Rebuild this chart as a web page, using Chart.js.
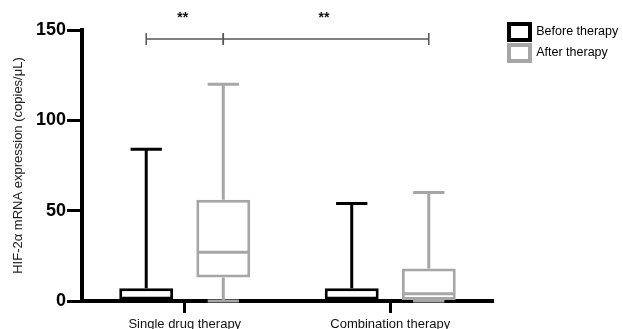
<!DOCTYPE html>
<html>
<head>
<meta charset="utf-8">
<script src="https://cdn.jsdelivr.net/npm/chart.js@4.4.0/dist/chart.umd.min.js"></script>
<style>
  html, body { margin: 0; padding: 0; background: #fff; }
  #wrap { width: 623px; height: 329px; }
</style>
</head>
<body>
<div id="wrap"><canvas id="hifChart"></canvas></div>
<script>
// box plot data (copies/uL)
const categories = ['Single drug therapy', 'Combination therapy'];
const seriesNames = ['Before therapy', 'After therapy'];

const beforeMin = [0, 0];
const beforeQ1 = [0.5, 0.5];
const beforeMedian = [1.5, 1.5];
const beforeQ3 = [7, 7];
const beforeMax = [84, 54];

const afterMin = [0, 0];
const afterQ1 = [13, 0.5];
const afterMedian = [27, 4];
const afterQ3 = [56, 18];
const afterMax = [120, 60];

const yTicks = [0, 50, 100, 150];

// significance brackets: [datasetIndex, categoryIndex] endpoints
const sigFrom = [[0, 0], [1, 0]];
const sigTo = [[1, 0], [1, 1]];
const sigText = ['**', '**'];
const sigLevel = 145;

const FONT = '"Liberation Sans", Arial, sans-serif';
const BLACK = '#000000';
const GREY = '#a6a6a6';

const stats = [
    { min: beforeMin, q1: beforeQ1, med: beforeMedian, q3: beforeQ3, max: beforeMax },
    { min: afterMin, q1: afterQ1, med: afterMedian, q3: afterQ3, max: afterMax }
];

// whiskers, medians and the significance bars
const boxPlotExtras = {
    id: 'boxPlotExtras',
    afterLayout(chart) {
        // legend sits a bit away from the plot in the figure
        chart.legend.left += 11;
        chart.legend.right += 11;
    },
    afterDatasetsDraw(chart) {
        const ctx = chart.ctx;
        const y = chart.scales.y;
        ctx.save();
        chart.data.datasets.forEach((ds, di) => {
            const meta = chart.getDatasetMeta(di);
            const s = stats[di];
            meta.data.forEach((bar, i) => {
                const cx = bar.x;
                const half = bar.width / 2;
                const cap = bar.width * 0.29;
                const pMax = y.getPixelForValue(s.max[i]);
                const pMin = y.getPixelForValue(s.min[i]);
                const pQ1 = y.getPixelForValue(s.q1[i]);
                const pQ3 = y.getPixelForValue(s.q3[i]);
                const pMed = y.getPixelForValue(s.med[i]);
                ctx.strokeStyle = ds.borderColor;
                ctx.lineWidth = 3;
                ctx.lineCap = 'butt';
                ctx.beginPath();
                ctx.moveTo(cx, pQ3); ctx.lineTo(cx, pMax);
                ctx.moveTo(cx - cap, pMax); ctx.lineTo(cx + cap, pMax);
                ctx.moveTo(cx, pQ1); ctx.lineTo(cx, pMin);
                ctx.moveTo(cx - cap, pMin); ctx.lineTo(cx + cap, pMin);
                ctx.moveTo(cx - half + 2, pMed); ctx.lineTo(cx + half - 2, pMed);
                ctx.stroke();
            });
        });

        const by = y.getPixelForValue(sigLevel);
        sigFrom.forEach((from, k) => {
            const to = sigTo[k];
            const x1 = chart.getDatasetMeta(from[0]).data[from[1]].x;
            const x2 = chart.getDatasetMeta(to[0]).data[to[1]].x;
            ctx.strokeStyle = '#555555';
            ctx.lineWidth = 1.5;
            ctx.beginPath();
            ctx.moveTo(x1, by); ctx.lineTo(x2, by);
            ctx.moveTo(x1, by - 6); ctx.lineTo(x1, by + 6);
            ctx.moveTo(x2, by - 6); ctx.lineTo(x2, by + 6);
            ctx.stroke();
            ctx.fillStyle = '#111111';
            ctx.font = 'bold 14px ' + FONT;
            ctx.textAlign = 'center';
            ctx.textBaseline = 'alphabetic';
            ctx.fillText(sigText[k], (x1 + x2) / 2 - 2, by - 17);
        });
        ctx.restore();
    }
};

const ctx = document.getElementById('hifChart');

new Chart(ctx, {
    type: 'bar',
    data: {
        labels: categories,
        datasets: [
            {
                label: seriesNames[0],
                data: beforeQ1.map((v, i) => [v, beforeQ3[i]]),
                backgroundColor: '#ffffff',
                borderColor: BLACK,
                borderWidth: 3,
                borderSkipped: false
            },
            {
                label: seriesNames[1],
                data: afterQ1.map((v, i) => [v, afterQ3[i]]),
                backgroundColor: '#ffffff',
                borderColor: GREY,
                borderWidth: 3,
                borderSkipped: false
            }
        ]
    },
    options: {
        responsive: true,
        maintainAspectRatio: false,
        animation: false,
        categoryPercentage: 0.75,
        barPercentage: 0.7,
        layout: {
            padding: { top: 19, right: 0, bottom: 0, left: 0 }
        },
        plugins: {
            tooltip: { enabled: false },
            legend: {
                display: true,
                position: 'right',
                align: 'start',
                labels: {
                    boxWidth: 21,
                    boxHeight: 16,
                    padding: 5,
                    color: '#111111',
                    font: { family: FONT, size: 12.5 },
                    generateLabels: (chart) => chart.data.datasets.map((ds, i) => ({
                        text: ds.label,
                        fillStyle: '#ffffff',
                        strokeStyle: ds.borderColor,
                        lineWidth: 4,
                        hidden: false,
                        datasetIndex: i
                    }))
                }
            }
        },
        scales: {
            x: {
                offset: true,
                grid: {
                    display: true,
                    offset: false,
                    drawOnChartArea: false,
                    drawTicks: true,
                    tickLength: 12,
                    tickWidth: 3,
                    tickColor: BLACK
                },
                border: { display: true, color: BLACK, width: 4 },
                ticks: {
                    color: '#111111',
                    padding: 4,
                    font: { family: FONT, size: 13 }
                },
                afterFit: (scale) => {
                    scale.height = 28;
                    scale.paddingLeft = 0;
                    scale.paddingRight = 130;
                }
            },
            y: {
                min: 0,
                max: 150,
                afterBuildTicks: (scale) => {
                    scale.ticks = yTicks.map(v => ({ value: v }));
                },
                grid: {
                    display: true,
                    drawOnChartArea: false,
                    drawTicks: true,
                    tickLength: 15,
                    tickWidth: 3,
                    tickColor: BLACK
                },
                border: { display: true, color: BLACK, width: 4 },
                ticks: {
                    color: BLACK,
                    padding: 1,
                    font: { family: FONT, size: 18, weight: 'bold' }
                },
                title: {
                    display: true,
                    text: 'HIF-2α mRNA expression (copies/μL)',
                    color: '#222222',
                    font: { family: FONT, size: 13 },
                    padding: { top: 11, bottom: 0 }
                },
                afterFit: (scale) => {
                    scale.width = 82;
                    scale.paddingTop = 30;
                }
            }
        }
    },
    plugins: [boxPlotExtras]
});
</script>
</body>
</html>
